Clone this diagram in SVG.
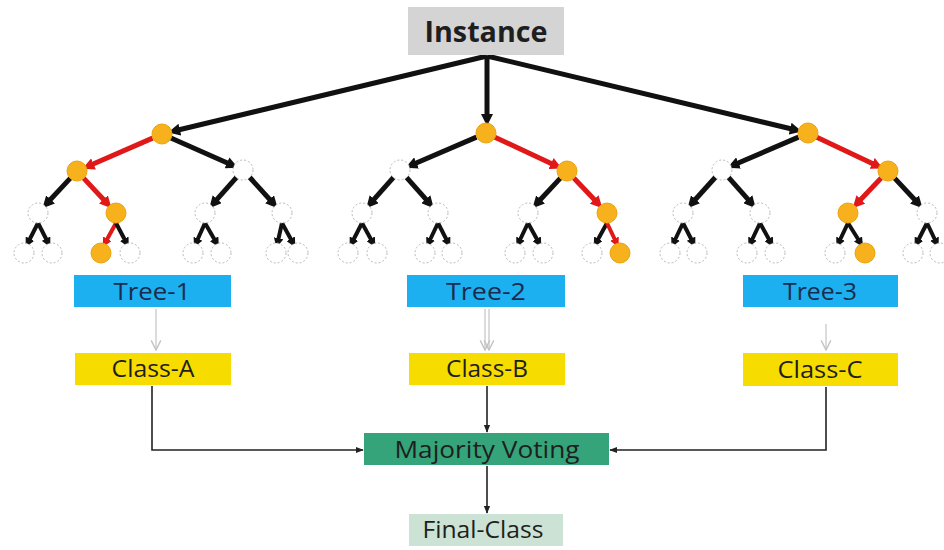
<svg xmlns="http://www.w3.org/2000/svg" width="944" height="550" viewBox="0 0 944 550">
<style>
.o{fill:#f6b11d;stroke:#eaa30f;stroke-width:1}
.w{fill:#fff;stroke:#b8b8b8;stroke-width:1;stroke-dasharray:2 2}
.k{stroke:#111;fill:none;stroke-width:5;marker-end:url(#ak)}
.r{stroke:#e01818;fill:none;stroke-width:5;marker-end:url(#ar)}
.k3{stroke:#111;fill:none;stroke-width:4;marker-end:url(#ak)}
.r3{stroke:#e01818;fill:none;stroke-width:4;marker-end:url(#ar)}
.top{stroke:#111;fill:none;stroke-width:5;marker-end:url(#ak)}
.c{stroke:#222;fill:none;stroke-width:1.6;marker-end:url(#as)}
.g{stroke:#c4c4c4;fill:none;stroke-width:1.2;marker-end:url(#ag)}
.lbl{font-family:"Open Sans","Liberation Sans",sans-serif;font-size:24px;text-anchor:middle;fill:#1e1e1e}
.tl{fill:#1b2b4d}
</style>
<defs>
<marker id="ak" viewBox="0 0 10 10" refX="5" refY="5" markerWidth="2.4" markerHeight="2.4" orient="auto"><path d="M0,0 L10,5 L0,10 z" fill="#111"/></marker>
<marker id="ar" viewBox="0 0 10 10" refX="5" refY="5" markerWidth="2.4" markerHeight="2.4" orient="auto"><path d="M0,0 L10,5 L0,10 z" fill="#e01818"/></marker>
<marker id="as" viewBox="0 0 10 10" refX="9" refY="5" markerWidth="8" markerHeight="8" markerUnits="userSpaceOnUse" orient="auto"><path d="M0,1 L10,5 L0,9 z" fill="#222"/></marker>
<marker id="ag" viewBox="0 0 10 10" refX="9" refY="5" markerWidth="12" markerHeight="12" markerUnits="userSpaceOnUse" orient="auto"><path d="M1,1 L9,5 L1,9" fill="none" stroke="#c4c4c4" stroke-width="1.2"/></marker>
</defs>
<rect width="944" height="550" fill="#fff"/>

<g id="connectors">
<path class="top" d="M487,56 L174,131"/>
<path class="top" d="M487,56 L487,120"/>
<path class="top" d="M487,56 L796,130"/>
<!-- tree 1 -->
<path class="r" d="M152.6,138.1 L88,166.3"/>
<path class="k" d="M170.9,138 L232.5,165.3"/>
<path class="k" d="M70.4,178.1 L46.5,203.8"/>
<path class="r" d="M83.6,178.1 L107.5,203.8"/>
<path class="k" d="M236.5,177.3 L213.2,203.7"/>
<path class="k" d="M249.6,177.3 L273.6,203.7"/>
<path class="k3" d="M38,223 L27.8,243"/>
<path class="k3" d="M38,223 L48.2,243"/>
<path class="r3" d="M116,223 L105,243"/>
<path class="k3" d="M116,223 L126.5,243"/>
<path class="k3" d="M205,223 L196,243"/>
<path class="k3" d="M205,223 L216.5,243"/>
<path class="k3" d="M282,223 L277.5,243"/>
<path class="k3" d="M282,223 L293,243"/>
<!-- tree 2 -->
<path class="k" d="M476.5,137.1 L411,165.3"/>
<path class="r" d="M494.9,137.2 L556.5,166"/>
<path class="k" d="M393.5,177.3 L370.2,203.7"/>
<path class="k" d="M406.5,177.3 L429.8,203.7"/>
<path class="k" d="M560.4,178.1 L536.5,203.8"/>
<path class="r" d="M573.8,178.1 L598.3,203.8"/>
<path class="k3" d="M362,223 L351.8,243"/>
<path class="k3" d="M362,223 L373,243"/>
<path class="k3" d="M438,223 L428.5,243"/>
<path class="k3" d="M438,223 L448.2,243"/>
<path class="k3" d="M528,223 L518.5,243"/>
<path class="k3" d="M528,223 L539,243"/>
<path class="k3" d="M607,223 L596,243"/>
<path class="r3" d="M607,223 L616.5,243"/>
<!-- tree 3 -->
<path class="k" d="M798.5,137.1 L733,165.3"/>
<path class="r" d="M816.8,137.2 L877.6,166"/>
<path class="k" d="M715.4,177.3 L691.5,203.7"/>
<path class="k" d="M728.5,177.3 L751.8,203.7"/>
<path class="r" d="M881.2,178.1 L856.7,203.8"/>
<path class="k" d="M894.6,178.1 L918.5,203.8"/>
<path class="k3" d="M683,223 L673.5,243"/>
<path class="k3" d="M683,223 L693.2,243"/>
<path class="k3" d="M760,223 L750.5,243"/>
<path class="k3" d="M760,223 L771,243"/>
<path class="k3" d="M848,223 L838.5,243"/>
<path class="k3" d="M848,223 L860.5,243"/>
<path class="k3" d="M927,223 L916.8,243"/>
<path class="k3" d="M927,223 L936.5,243"/>
<!-- tree to class -->
<path class="g" d="M156,309 L156,350"/>
<path class="g" d="M485,309 L485,350"/>
<path class="g" d="M489,309 L489,350"/>
<path class="g" d="M826,324 L826,350"/>
<!-- class to voting -->
<path class="c" d="M152,386 V450 H363"/>
<path class="c" d="M487,386 V432"/>
<path class="c" d="M826,387 V450 H610"/>
<path class="c" d="M487,466 V513"/>
</g>

<g id="instance"><rect x="408" y="7" width="156" height="48" fill="#d4d4d4"/><text x="486" y="42" class="lbl" style="font-weight:bold;font-size:28px" textLength="123" lengthAdjust="spacingAndGlyphs">Instance</text></g>

<g id="t1-n0"><circle class="o" cx="162" cy="134" r="10"/></g>
<g id="t1-n1"><circle class="o" cx="77" cy="171" r="10"/></g>
<g id="t1-n2"><circle class="w" cx="243" cy="170" r="10"/></g>
<g id="t1-n3"><circle class="w" cx="38" cy="213" r="10"/></g>
<g id="t1-n4"><circle class="o" cx="116" cy="213" r="10"/></g>
<g id="t1-n5"><circle class="w" cx="205" cy="213" r="10"/></g>
<g id="t1-n6"><circle class="w" cx="282" cy="213" r="10"/></g>
<g id="t1-n7"><circle class="w" cx="24" cy="253" r="10"/></g>
<g id="t1-n8"><circle class="w" cx="52" cy="253" r="10"/></g>
<g id="t1-n9"><circle class="o" cx="101" cy="253" r="10"/></g>
<g id="t1-n10"><circle class="w" cx="130" cy="253" r="10"/></g>
<g id="t1-n11"><circle class="w" cx="193" cy="253" r="10"/></g>
<g id="t1-n12"><circle class="w" cx="221" cy="253" r="10"/></g>
<g id="t1-n13"><circle class="w" cx="276" cy="253" r="10"/></g>
<g id="t1-n14"><circle class="w" cx="298" cy="253" r="10"/></g>

<g id="t2-n0"><circle class="o" cx="486" cy="133" r="10"/></g>
<g id="t2-n1"><circle class="w" cx="400" cy="170" r="10"/></g>
<g id="t2-n2"><circle class="o" cx="567" cy="171" r="10"/></g>
<g id="t2-n3"><circle class="w" cx="362" cy="213" r="10"/></g>
<g id="t2-n4"><circle class="w" cx="438" cy="213" r="10"/></g>
<g id="t2-n5"><circle class="w" cx="528" cy="213" r="10"/></g>
<g id="t2-n6"><circle class="o" cx="607" cy="213" r="10"/></g>
<g id="t2-n7"><circle class="w" cx="348" cy="253" r="10"/></g>
<g id="t2-n8"><circle class="w" cx="377" cy="253" r="10"/></g>
<g id="t2-n9"><circle class="w" cx="425" cy="253" r="10"/></g>
<g id="t2-n10"><circle class="w" cx="452" cy="253" r="10"/></g>
<g id="t2-n11"><circle class="w" cx="515" cy="253" r="10"/></g>
<g id="t2-n12"><circle class="w" cx="543" cy="253" r="10"/></g>
<g id="t2-n13"><circle class="w" cx="592" cy="253" r="10"/></g>
<g id="t2-n14"><circle class="o" cx="620" cy="253" r="10"/></g>

<g id="t3-n0"><circle class="o" cx="808" cy="133" r="10"/></g>
<g id="t3-n1"><circle class="w" cx="722" cy="170" r="10"/></g>
<g id="t3-n2"><circle class="o" cx="888" cy="171" r="10"/></g>
<g id="t3-n3"><circle class="w" cx="683" cy="213" r="10"/></g>
<g id="t3-n4"><circle class="w" cx="760" cy="213" r="10"/></g>
<g id="t3-n5"><circle class="o" cx="848" cy="213" r="10"/></g>
<g id="t3-n6"><circle class="w" cx="927" cy="213" r="10"/></g>
<g id="t3-n7"><circle class="w" cx="670" cy="253" r="10"/></g>
<g id="t3-n8"><circle class="w" cx="697" cy="253" r="10"/></g>
<g id="t3-n9"><circle class="w" cx="747" cy="253" r="10"/></g>
<g id="t3-n10"><circle class="w" cx="775" cy="253" r="10"/></g>
<g id="t3-n11"><circle class="w" cx="835" cy="253" r="10"/></g>
<g id="t3-n12"><circle class="o" cx="865" cy="253" r="10"/></g>
<g id="t3-n13"><circle class="w" cx="913" cy="253" r="10"/></g>
<g id="t3-n14"><circle class="w" cx="940" cy="253" r="10"/></g>

<g id="tree-1"><rect x="74" y="275" width="157" height="32" fill="#1cb0f0"/><text x="152" y="300" class="lbl tl" textLength="77" lengthAdjust="spacingAndGlyphs">Tree-1</text></g>
<g id="tree-2"><rect x="407" y="275" width="158" height="32" fill="#1cb0f0"/><text x="486" y="300" class="lbl tl" textLength="80" lengthAdjust="spacingAndGlyphs">Tree-2</text></g>
<g id="tree-3"><rect x="743" y="275" width="155" height="32" fill="#1cb0f0"/><text x="820" y="300" class="lbl tl" textLength="74" lengthAdjust="spacingAndGlyphs">Tree-3</text></g>

<g id="class-a"><rect x="75" y="353" width="156" height="32" fill="#f7dc00"/><text x="153" y="377" class="lbl" textLength="83" lengthAdjust="spacingAndGlyphs">Class-A</text></g>
<g id="class-b"><rect x="409" y="353" width="156" height="32" fill="#f7dc00"/><text x="487" y="377" class="lbl" textLength="82" lengthAdjust="spacingAndGlyphs">Class-B</text></g>
<g id="class-c"><rect x="743" y="353" width="155" height="33" fill="#f7dc00"/><text x="820" y="378" class="lbl" textLength="85" lengthAdjust="spacingAndGlyphs">Class-C</text></g>

<g id="majority"><rect x="364" y="433" width="245" height="32" fill="#35a47a"/><text x="487" y="458" class="lbl" textLength="185" lengthAdjust="spacingAndGlyphs">Majority Voting</text></g>
<g id="final"><rect x="409" y="514" width="154" height="32" fill="#cbe2d4"/><text x="483" y="538" class="lbl" textLength="121" lengthAdjust="spacingAndGlyphs">Final-Class</text></g>
</svg>
